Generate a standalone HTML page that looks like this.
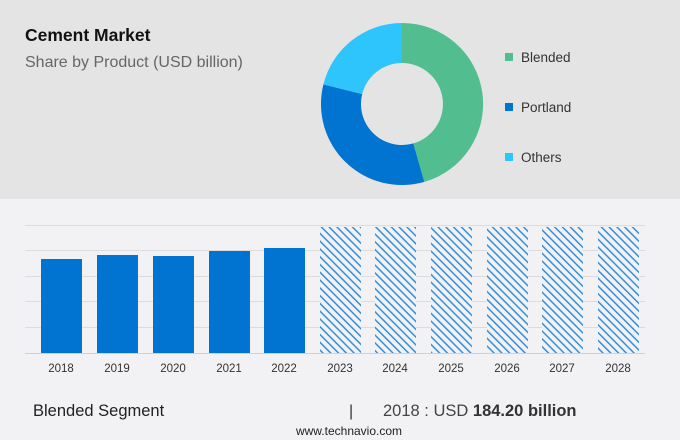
<!DOCTYPE html>
<html><head><style>
body{margin:0;width:680px;height:440px;overflow:hidden;background:#f2f2f4;font-family:"Liberation Sans",sans-serif}
</style></head><body>
<svg width="680" height="440" xmlns="http://www.w3.org/2000/svg" style="position:absolute;left:0;top:0">
<defs>
<pattern id="h" width="5.5" height="5.5" patternUnits="userSpaceOnUse" patternTransform="rotate(-45)">
<rect width="6" height="6" fill="#f2f2f4"/><rect x="0" width="1.4" height="6" fill="#2a88d8"/>
</pattern>
</defs>
<rect x="0" y="0" width="680" height="199" fill="#e4e4e4"/>
<text x="25" y="41" font-size="17.5" font-weight="bold" fill="#111">Cement Market</text>
<text x="25" y="67" font-size="16" fill="#666">Share by Product (USD billion)</text>
<path d="M402,23 A81,81 0 0 1 424.3,181.9 L413.3,143.4 A41,41 0 0 0 402,63 Z" fill="#52be8f"/>
<path d="M424.3,181.9 A81,81 0 0 1 323.4,84.4 L362.2,94.1 A41,41 0 0 0 413.3,143.4 Z" fill="#0074d0"/>
<path d="M323.4,84.4 A81,81 0 0 1 402,23 L402,63 A41,41 0 0 0 362.2,94.1 Z" fill="#2ec4fc"/>
<rect x="505" y="53" width="8" height="8" fill="#52be8f"/>
<rect x="505" y="103" width="8" height="8" fill="#0074d0"/>
<rect x="505" y="153" width="8" height="8" fill="#2ec4fc"/>
<text x="521" y="62" font-size="13.5" fill="#333">Blended</text>
<text x="521" y="112" font-size="13.5" fill="#333">Portland</text>
<text x="521" y="162" font-size="13.5" fill="#333">Others</text>
<g stroke="#dcdcdc" stroke-width="1">
<line x1="25" x2="645" y1="225.5" y2="225.5"/><line x1="25" x2="645" y1="250.5" y2="250.5"/>
<line x1="25" x2="645" y1="276.5" y2="276.5"/><line x1="25" x2="645" y1="301.5" y2="301.5"/>
<line x1="25" x2="645" y1="327.5" y2="327.5"/>
</g>
<g fill="#0074d0">
<rect x="41" y="259" width="41" height="94"/><rect x="97" y="255" width="41" height="98"/>
<rect x="153" y="256" width="41" height="97"/><rect x="209" y="251" width="41" height="102"/>
<rect x="264" y="248" width="41" height="105"/>
</g>
<g fill="url(#h)">
<rect x="320" y="227" width="41" height="126"/><rect x="375" y="227" width="41" height="126"/>
<rect x="431" y="227" width="41" height="126"/><rect x="487" y="227" width="41" height="126"/>
<rect x="542" y="227" width="41" height="126"/><rect x="598" y="227" width="41" height="126"/>
</g>
<line x1="25" x2="645" y1="353.5" y2="353.5" stroke="#d0d0d0"/>
<g font-size="11.5" fill="#333" text-anchor="middle">
<text x="61" y="372">2018</text><text x="117" y="372">2019</text><text x="173" y="372">2020</text>
<text x="229" y="372">2021</text><text x="284" y="372">2022</text><text x="340" y="372">2023</text>
<text x="395" y="372">2024</text><text x="451" y="372">2025</text><text x="507" y="372">2026</text>
<text x="562" y="372">2027</text><text x="618" y="372">2028</text>
</g>
<text x="33" y="416" font-size="16.5" fill="#222">Blended Segment</text>
<text x="349" y="416" font-size="16" fill="#333">|</text>
<text x="383" y="416" font-size="16.5" fill="#444">2018 : USD <tspan font-weight="bold" fill="#333">184.20 billion</tspan></text>
<text x="349" y="435" font-size="12" fill="#222" text-anchor="middle">www.technavio.com</text>
</svg>
</body></html>
